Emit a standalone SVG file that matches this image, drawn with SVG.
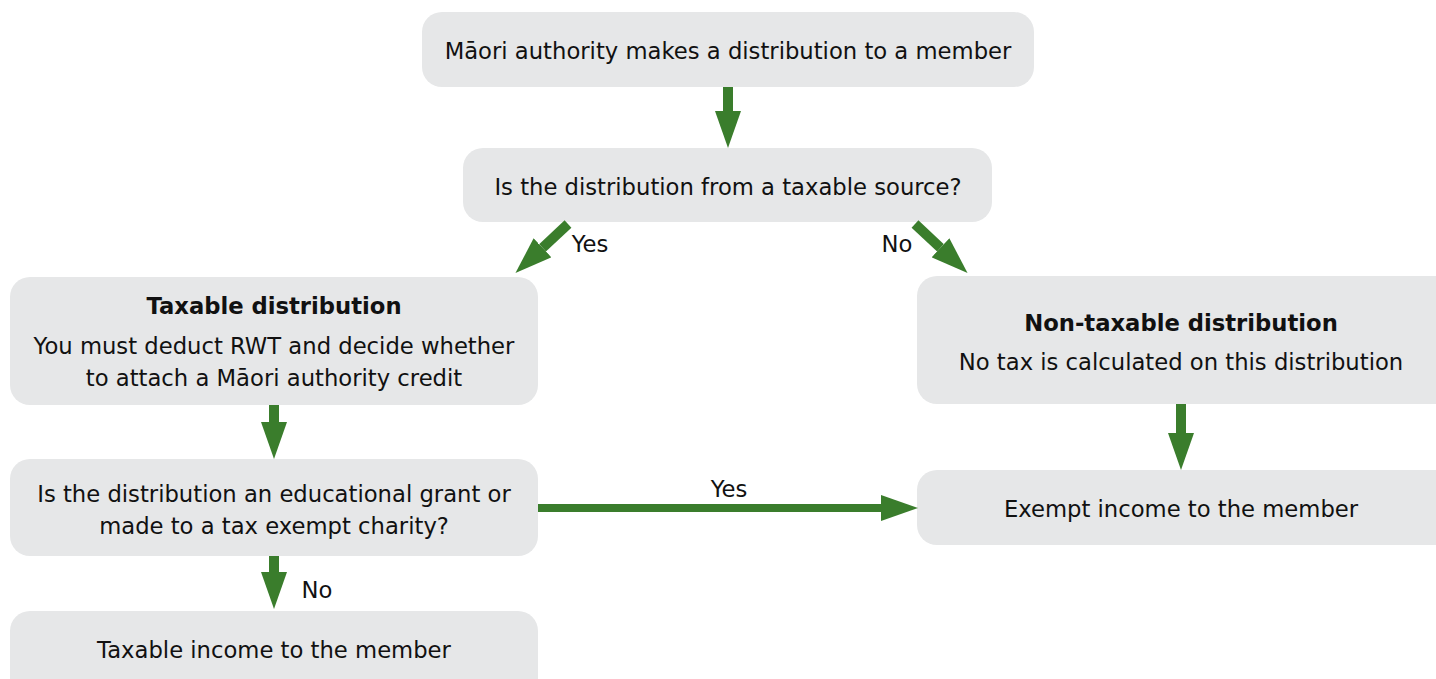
<svg xmlns="http://www.w3.org/2000/svg" width="1436" height="679" viewBox="0 0 1436 679">
<style>
.box{fill:#e6e7e8;}
.t{font-family:"DejaVu Sans",Verdana,sans-serif;font-size:22.7px;fill:#111111;text-anchor:middle;}
.b{font-weight:bold;}
.c{stroke:#3a7d2c;stroke-width:10;fill:none;}
</style>
<defs>
<marker id="ah" markerUnits="userSpaceOnUse" markerWidth="37" markerHeight="26" viewBox="0 0 37 26" refX="0" refY="13" orient="auto">
<path d="M0,0 L37,13 L0,26 Z" fill="#3a7d2c"/>
</marker>
</defs>
<g id="n1"><rect class="box" x="422" y="12" width="612" height="75" rx="20"/><text class="t" x="728" y="59">Māori authority makes a distribution to a member</text></g>
<g id="n2"><rect class="box" x="463" y="148" width="529" height="74" rx="20"/><text class="t" x="728" y="195">Is the distribution from a taxable source?</text></g>
<g id="n3"><rect class="box" x="10" y="277" width="528" height="128" rx="20"/><text class="t b" x="274" y="314">Taxable distribution</text><text class="t" x="274" y="354">You must deduct RWT and decide whether</text><text class="t" x="274" y="386">to attach a Māori authority credit</text></g>
<g id="n4"><rect class="box" x="10" y="459" width="528" height="97" rx="20"/><text class="t" x="274" y="502">Is the distribution an educational grant or</text><text class="t" x="274" y="534">made to a tax exempt charity?</text></g>
<g id="n5"><rect class="box" x="10" y="611" width="528" height="100" rx="20"/><text class="t" x="274" y="658">Taxable income to the member</text></g>
<g id="n6"><rect class="box" x="917" y="276" width="540" height="128" rx="20"/><text class="t b" x="1181" y="331">Non-taxable distribution</text><text class="t" x="1181" y="370">No tax is calculated on this distribution</text></g>
<g id="n7"><rect class="box" x="917" y="470" width="540" height="75" rx="20"/><text class="t" x="1181" y="517">Exempt income to the member</text></g>
<g id="connectors">
<line class="c" x1="728" y1="87" x2="728" y2="111" marker-end="url(#ah)"/>
<line class="c" x1="568" y1="224" x2="542.5" y2="247.8" marker-end="url(#ah)"/>
<line class="c" x1="915" y1="224" x2="940.5" y2="247.8" marker-end="url(#ah)"/>
<line class="c" x1="274" y1="405" x2="274" y2="422" marker-end="url(#ah)"/>
<line class="c" x1="274" y1="556" x2="274" y2="572" marker-end="url(#ah)"/>
<line class="c" x1="1181" y1="404" x2="1181" y2="433" marker-end="url(#ah)"/>
<line class="c" style="stroke-width:8" x1="538" y1="508" x2="881" y2="508" marker-end="url(#ah)"/>
<text class="t" x="590" y="252">Yes</text>
<text class="t" x="897" y="252">No</text>
<text class="t" x="317" y="598">No</text>
<text class="t" x="729" y="497">Yes</text>
</g>
</svg>
